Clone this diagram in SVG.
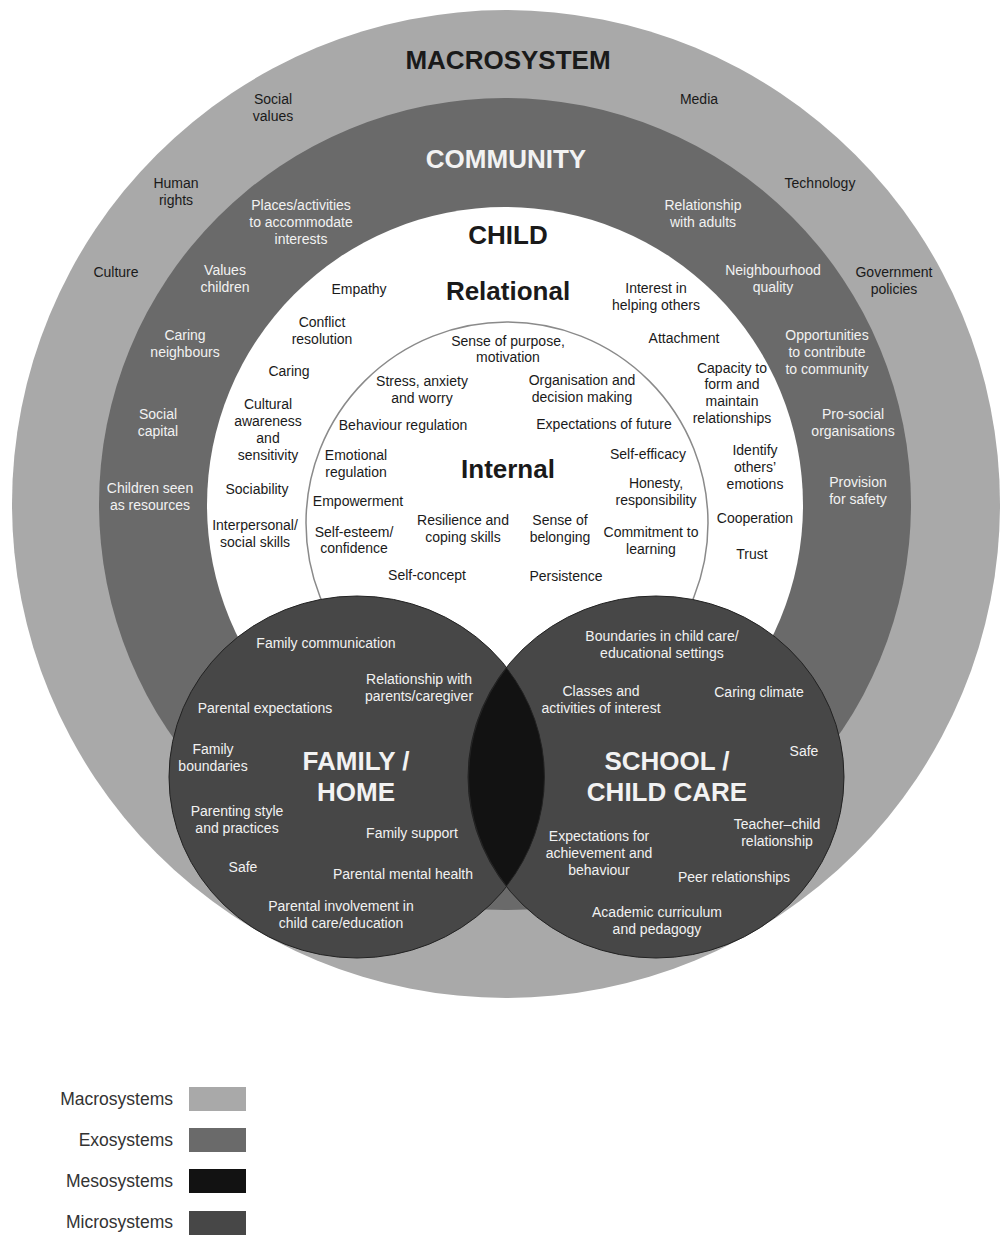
<svg xmlns="http://www.w3.org/2000/svg" width="1002" height="1239" viewBox="0 0 1002 1239">
<style>
text{font-family:"Liberation Sans",Arial,sans-serif;text-anchor:middle}
.s{font-size:14px}
.k{fill:#1a1a1a}
.w{fill:#f2f2f2}
.h{font-size:26px;font-weight:bold}
.lg{font-size:17.5px;fill:#333;text-anchor:end}
.macro{fill:#a9a9a9}
.exo{fill:#6a6a6a}
.micro{fill:#474747;stroke:#222;stroke-width:1}
.meso{fill:#121212}
</style>
<rect width="1002" height="1239" fill="#fff"/>
<g id="macrosystem">
<circle class="macro" cx="506" cy="504" r="494"/>
<text class="h k" x="508" y="69">MACROSYSTEM</text>
<g class="s k">
<text x="273" y="104">Social</text><text x="273" y="121">values</text>
<text x="176" y="188">Human</text><text x="176" y="205">rights</text>
<text x="116" y="277">Culture</text>
<text x="699" y="104">Media</text>
<text x="820" y="188">Technology</text>
<text x="894" y="277">Government</text><text x="894" y="294">policies</text>
</g>
</g>
<g id="community">
<circle class="exo" cx="505" cy="504" r="406"/>
<text class="h w" x="506" y="168">COMMUNITY</text>
<g class="s w">
<text x="301" y="210">Places/activities</text><text x="301" y="227">to accommodate</text><text x="301" y="244">interests</text>
<text x="225" y="275">Values</text><text x="225" y="292">children</text>
<text x="185" y="340">Caring</text><text x="185" y="357">neighbours</text>
<text x="158" y="419">Social</text><text x="158" y="436">capital</text>
<text x="150" y="493">Children seen</text><text x="150" y="510">as resources</text>
<text x="703" y="210">Relationship</text><text x="703" y="227">with adults</text>
<text x="773" y="275">Neighbourhood</text><text x="773" y="292">quality</text>
<text x="827" y="340">Opportunities</text><text x="827" y="357">to contribute</text><text x="827" y="374">to community</text>
<text x="853" y="419">Pro-social</text><text x="853" y="436">organisations</text>
<text x="858" y="487">Provision</text><text x="858" y="504">for safety</text>
</g>
</g>
<g id="child">
<circle cx="505" cy="505" r="298" fill="#fff"/>
<text class="h k" x="508" y="244">CHILD</text>
<text class="h k" x="508" y="300">Relational</text>
<g class="s k">
<text x="359" y="294">Empathy</text>
<text x="322" y="327">Conflict</text><text x="322" y="344">resolution</text>
<text x="289" y="376">Caring</text>
<text x="268" y="409">Cultural</text><text x="268" y="426">awareness</text><text x="268" y="443">and</text><text x="268" y="460">sensitivity</text>
<text x="257" y="494">Sociability</text>
<text x="255" y="530">Interpersonal/</text><text x="255" y="547">social skills</text>
<text x="656" y="293">Interest in</text><text x="656" y="310">helping others</text>
<text x="684" y="343">Attachment</text>
<text x="732" y="373">Capacity to</text><text x="732" y="389">form and</text><text x="732" y="406">maintain</text><text x="732" y="423">relationships</text>
<text x="755" y="455">Identify</text><text x="755" y="472">others’</text><text x="755" y="489">emotions</text>
<text x="755" y="523">Cooperation</text>
<text x="752" y="559">Trust</text>
</g>
</g>
<g id="internal">
<circle cx="507" cy="523" r="201" fill="none" stroke="#8a8a8a" stroke-width="1.5"/>
<text class="h k" x="508" y="478">Internal</text>
<g class="s k">
<text x="508" y="346">Sense of purpose,</text><text x="508" y="362">motivation</text>
<text x="422" y="386">Stress, anxiety</text><text x="422" y="403">and worry</text>
<text x="582" y="385">Organisation and</text><text x="582" y="402">decision making</text>
<text x="403" y="430">Behaviour regulation</text>
<text x="604" y="429">Expectations of future</text>
<text x="356" y="460">Emotional</text><text x="356" y="477">regulation</text>
<text x="648" y="459">Self-efficacy</text>
<text x="656" y="488">Honesty,</text><text x="656" y="505">responsibility</text>
<text x="358" y="506">Empowerment</text>
<text x="463" y="525">Resilience and</text><text x="463" y="542">coping skills</text>
<text x="560" y="525">Sense of</text><text x="560" y="542">belonging</text>
<text x="354" y="537">Self-esteem/</text><text x="354" y="553">confidence</text>
<text x="651" y="537">Commitment to</text><text x="651" y="554">learning</text>
<text x="427" y="580">Self-concept</text>
<text x="566" y="581">Persistence</text>
</g>
</g>
<g id="family-home">
<ellipse class="micro" cx="357" cy="777" rx="188" ry="181"/>
</g>
<g id="school-child-care">
<ellipse class="micro" cx="656" cy="777" rx="188" ry="181"/>
</g>
<g id="mesosystem">
<path class="meso" d="M506.5,668 A188,181 0 0 1 506.5,886 A188,181 0 0 1 506.5,668 Z" stroke="#222" stroke-width="1"/>
</g>
<g id="family-home-labels">
<text class="h w" x="356" y="770">FAMILY /</text>
<text class="h w" x="356" y="801">HOME</text>
<g class="s w">
<text x="326" y="648">Family communication</text>
<text x="419" y="684">Relationship with</text><text x="419" y="701">parents/caregiver</text>
<text x="265" y="713">Parental expectations</text>
<text x="213" y="754">Family</text><text x="213" y="771">boundaries</text>
<text x="237" y="816">Parenting style</text><text x="237" y="833">and practices</text>
<text x="412" y="838">Family support</text>
<text x="243" y="872">Safe</text>
<text x="403" y="879">Parental mental health</text>
<text x="341" y="911">Parental involvement in</text><text x="341" y="928">child care/education</text>
</g>
</g>
<g id="school-child-care-labels">
<text class="h w" x="667" y="770">SCHOOL /</text>
<text class="h w" x="667" y="801">CHILD CARE</text>
<g class="s w">
<text x="662" y="641">Boundaries in child care/</text><text x="662" y="658">educational settings</text>
<text x="601" y="696">Classes and</text><text x="601" y="713">activities of interest</text>
<text x="759" y="697">Caring climate</text>
<text x="804" y="756">Safe</text>
<text x="777" y="829">Teacher–child</text><text x="777" y="846">relationship</text>
<text x="599" y="841">Expectations for</text><text x="599" y="858">achievement and</text><text x="599" y="875">behaviour</text>
<text x="734" y="882">Peer relationships</text>
<text x="657" y="917">Academic curriculum</text><text x="657" y="934">and pedagogy</text>
</g>
</g>
<g id="legend">
<rect x="189" y="1087" width="57" height="24" fill="#a9a9a9"/>
<rect x="189" y="1128" width="57" height="24" fill="#6a6a6a"/>
<rect x="189" y="1169" width="57" height="24" fill="#121212"/>
<rect x="189" y="1211" width="57" height="24" fill="#474747"/>
<text class="lg" x="173" y="1105">Macrosystems</text>
<text class="lg" x="173" y="1146">Exosystems</text>
<text class="lg" x="173" y="1187">Mesosystems</text>
<text class="lg" x="173" y="1228">Microsystems</text>
</g>
</svg>
